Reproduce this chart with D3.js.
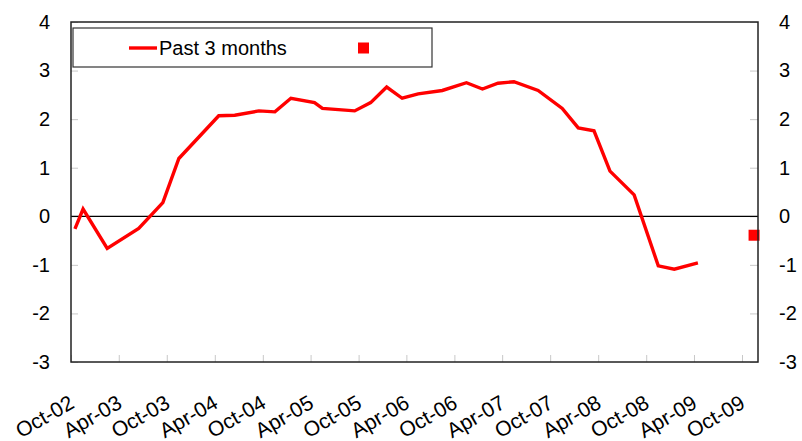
<!DOCTYPE html>
<html>
<head>
<meta charset="utf-8">
<script src="https://cdn.jsdelivr.net/npm/d3@7"></script>
<style>
  body { margin: 0; background: #fff; }
  svg { display: block; }
</style>
</head>
<body>
<div id="chart"></div>
<script>
// survey months and the "past 3 months" balance
const months = [
  "2002-10", "2002-11", "2003-02", "2003-06", "2003-09", "2003-11",
  "2004-04", "2004-06", "2004-09", "2004-11", "2005-01", "2005-04",
  "2005-05", "2005-09", "2005-11", "2006-01", "2006-03", "2006-05",
  "2006-08", "2006-11", "2007-01", "2007-03", "2007-05", "2007-08",
  "2007-11", "2008-01", "2008-03", "2008-05", "2008-08", "2008-11",
  "2009-01", "2009-04",
];
const pastValues = [
  -0.26, 0.15, -0.66, -0.25, 0.28, 1.19,
  2.07, 2.08, 2.17, 2.15, 2.43, 2.34,
  2.22, 2.17, 2.34, 2.66, 2.43, 2.52,
  2.59, 2.75, 2.62, 2.74, 2.77, 2.59,
  2.22, 1.82, 1.76, 0.93, 0.44, -1.02,
  -1.09, -0.96,
];
// single marker point (no legend label)
const markerMonths = ["2009-11"];
const markerValues = [-0.39];

const seriesNames = ["Past 3 months", ""];
const yTicks = [-3, -2, -1, 0, 1, 2, 3, 4];

const size = { width: 802, height: 441 };
const margin = { top: 22, right: 44, bottom: 79, left: 71 };
const font = "Liberation Sans, Arial, Helvetica, sans-serif";

const parseMonth = d3.timeParse("%Y-%m");
// points sit in the middle of their month slot
const mid = (m) => d3.timeDay.offset(parseMonth(m), 15);

const svg = d3
  .select("#chart")
  .append("svg")
  .attr("width", size.width)
  .attr("height", size.height);

const x = d3
  .scaleTime()
  .domain([parseMonth("2002-10"), parseMonth("2009-12")])
  .range([margin.left, size.width - margin.right]);

const y = d3
  .scaleLinear()
  .domain([-3, 4])
  .range([size.height - margin.bottom, margin.top]);

const xTicks = d3.timeMonth.range(parseMonth("2002-10"), parseMonth("2009-11"), 6);

// plain hyphen for negatives, like the original
const numFormat = (d) => String(d);

// left axis
svg
  .append("g")
  .attr("transform", `translate(${margin.left},0)`)
  .call(d3.axisLeft(y).tickValues(yTicks).tickSize(-7).tickPadding(21).tickFormat(numFormat))
  .call((g) => g.select(".domain").remove())
  .call((g) => g.selectAll("line").attr("stroke", "#c8c8c8"))
  .call((g) =>
    g.selectAll("text").style("font-family", font).style("font-size", "20px").attr("fill", "#000")
  );

// right axis
svg
  .append("g")
  .attr("transform", `translate(${size.width - margin.right},0)`)
  .call(d3.axisRight(y).tickValues(yTicks).tickSize(-8).tickPadding(21).tickFormat(numFormat))
  .call((g) => g.select(".domain").remove())
  .call((g) => g.selectAll("line").attr("stroke", "#c8c8c8"))
  .call((g) =>
    g.selectAll("text").style("font-family", font).style("font-size", "20px").attr("fill", "#000")
  );

// bottom axis with slanted labels
svg
  .append("g")
  .attr("transform", `translate(0,${size.height - margin.bottom})`)
  .call(d3.axisBottom(x).tickValues(xTicks).tickSize(-7).tickFormat(d3.timeFormat("%b-%y")))
  .call((g) => g.select(".domain").remove())
  .call((g) => g.selectAll("line").attr("stroke", "#c8c8c8"))
  .call((g) =>
    g
      .selectAll("text")
      .style("font-family", font)
      .style("font-size", "21px")
      .attr("fill", "#000")
      .attr("y", null)
      .attr("dy", null)
      .attr("text-anchor", "end")
      .attr("transform", "translate(4,45) rotate(-30)")
  );

// zero line
svg
  .append("line")
  .attr("x1", margin.left)
  .attr("x2", size.width - margin.right)
  .attr("y1", y(0))
  .attr("y2", y(0))
  .attr("stroke", "#000")
  .attr("stroke-width", 1.2);

const pastData = months.map((m, i) => ({ date: mid(m), value: pastValues[i] }));
const markerData = markerMonths.map((m, i) => ({ date: mid(m), value: markerValues[i] }));

svg
  .append("path")
  .datum(pastData)
  .attr("fill", "none")
  .attr("stroke", "#ff0000")
  .attr("stroke-width", 3.4)
  .attr("stroke-linejoin", "miter")
  .attr("d", d3.line().x((d) => x(d.date)).y((d) => y(d.value)));

svg
  .selectAll(".marker")
  .data(markerData)
  .join("rect")
  .attr("class", "marker")
  .attr("x", (d) => x(d.date) - 5.5)
  .attr("y", (d) => y(d.value) - 5.5)
  .attr("width", 11)
  .attr("height", 11)
  .attr("fill", "#ff0000");

// plot frame
svg
  .append("rect")
  .attr("x", margin.left)
  .attr("y", margin.top)
  .attr("width", size.width - margin.right - margin.left)
  .attr("height", size.height - margin.bottom - margin.top)
  .attr("fill", "none")
  .attr("stroke", "#222")
  .attr("stroke-width", 1.5);

// legend
const legend = svg.append("g").attr("transform", "translate(73,28)");
legend
  .append("rect")
  .attr("width", 359)
  .attr("height", 39)
  .attr("fill", "#fff")
  .attr("stroke", "#333")
  .attr("stroke-width", 1.2);

legend
  .append("line")
  .attr("x1", 56)
  .attr("x2", 84)
  .attr("y1", 20)
  .attr("y2", 20)
  .attr("stroke", "#ff0000")
  .attr("stroke-width", 3.4);

legend
  .append("text")
  .attr("x", 86)
  .attr("y", 27)
  .style("font-family", font)
  .style("font-size", "20px")
  .text(seriesNames[0]);

legend
  .append("rect")
  .attr("x", 285)
  .attr("y", 14.5)
  .attr("width", 11)
  .attr("height", 11)
  .attr("fill", "#ff0000");

legend
  .append("text")
  .attr("x", 302)
  .attr("y", 27)
  .style("font-family", font)
  .style("font-size", "20px")
  .text(seriesNames[1]);
</script>
</body>
</html>
